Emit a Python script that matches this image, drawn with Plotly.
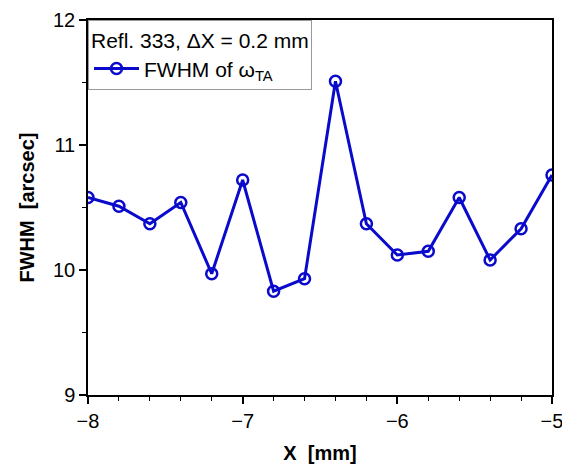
import plotly.graph_objects as go

x_mm = [-8.0, -7.8, -7.6, -7.4, -7.2, -7.0, -6.8, -6.6, -6.4, -6.2, -6.0, -5.8, -5.6, -5.4, -5.2, -5.0]
fwhm = [10.58, 10.51, 10.37, 10.54, 9.97, 10.72, 9.83, 9.93, 11.51, 10.37, 10.12, 10.15, 10.58, 10.08, 10.33, 10.76]

x_ticks = [-8, -7, -6, -5]
x_tick_text = ["−8", "−7", "−6", "−5"]
y_ticks = [9, 10, 11, 12]

blue = "#0a0acc"
font_family = "Liberation Sans, Arial, sans-serif"

fig = go.Figure()
fig.add_trace(go.Scatter(
    x=x_mm, y=fwhm, mode="lines+markers",
    name="FWHM of ω<sub>TA</sub>",
    line=dict(color=blue, width=3),
    marker=dict(symbol="circle-open", size=11, color=blue, line=dict(width=2.5, color=blue)),
))

axis_common = dict(
    showline=True, linecolor="black", linewidth=1.5, mirror=True,
    ticks="outside", tickcolor="black", ticklen=7, tickwidth=1.5,
    showgrid=False, zeroline=False, automargin=False,
    tickfont=dict(size=20, color="black", family=font_family),
)

fig.update_xaxes(
    range=[-8, -5], tickvals=x_ticks, ticktext=x_tick_text,
    minor=dict(dtick=0.2, ticks="outside", ticklen=4, tickcolor="black", tickwidth=1),
    title=dict(text="<b>X&nbsp;&nbsp;[mm]</b>", font=dict(size=20, color="black", family=font_family), standoff=18),
    **axis_common,
)
fig.update_yaxes(
    range=[9, 12], tickvals=y_ticks,
    minor=dict(dtick=0.5, ticks="outside", ticklen=4, tickcolor="black", tickwidth=1),
    title=dict(text="<b>FWHM&nbsp;&nbsp;[arcsec]</b>", font=dict(size=20, color="black", family=font_family), standoff=13),
    **axis_common,
)

fig.update_layout(
    width=562, height=456,
    margin=dict(l=80, r=18, t=12, b=69),
    plot_bgcolor="white", paper_bgcolor="white",
    font=dict(family=font_family, color="black"),
    showlegend=True,
    legend=dict(
        x=0, y=1, xanchor="left", yanchor="top",
        bgcolor="white", bordercolor="#999999", borderwidth=1,
        font=dict(size=21, color="black", family=font_family),
        title=dict(text="Refl. 333, ΔX = 0.2 mm", side="top",
                   font=dict(size=21, color="black", family=font_family)),
        itemwidth=45, tracegroupgap=0,
    ),
)

fig.write_html("out.html")
